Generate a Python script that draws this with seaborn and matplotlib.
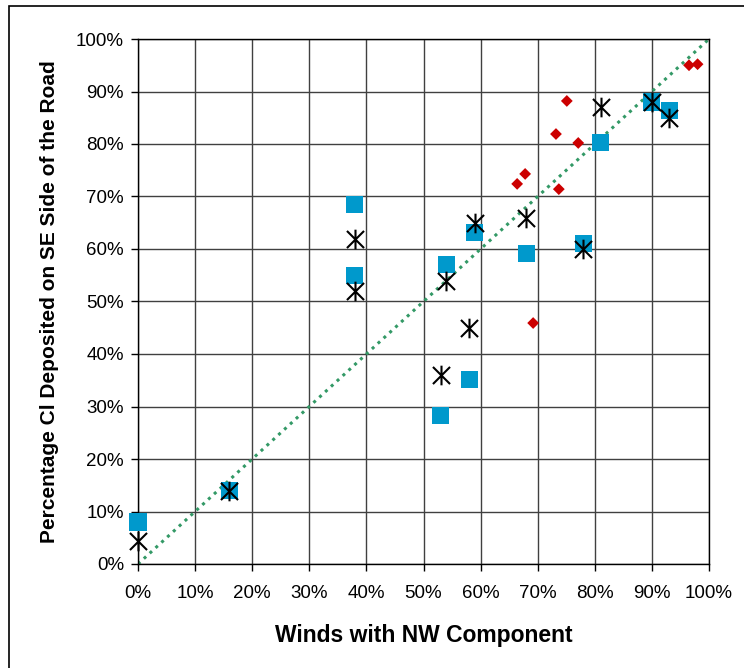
import numpy as np
import pandas as pd
import seaborn as sns
import matplotlib
matplotlib.use("Agg")
import matplotlib.pyplot as plt
from matplotlib.path import Path
from matplotlib.patches import Rectangle
from matplotlib.ticker import PercentFormatter, MultipleLocator

sns.set_style("white")
plt.rcParams['font.family'] = ['Liberation Sans', 'DejaVu Sans']
plt.rcParams['text.color'] = 'black'
plt.rcParams['axes.labelcolor'] = 'black'
plt.rcParams['xtick.color'] = 'black'
plt.rcParams['ytick.color'] = 'black'

# blue squares
sq_x = [0.00, 0.16, 0.38, 0.38, 0.54, 0.59, 0.53, 0.58, 0.68, 0.78, 0.81, 0.90, 0.93]
sq_y = [0.080, 0.140, 0.684, 0.550, 0.570, 0.632, 0.282, 0.352, 0.592, 0.611, 0.802, 0.880, 0.863]

# black asterisks
st_x = [0.00, 0.16, 0.38, 0.38, 0.54, 0.59, 0.53, 0.58, 0.68, 0.78, 0.81, 0.90, 0.93]
st_y = [0.044, 0.140, 0.620, 0.520, 0.540, 0.650, 0.360, 0.450, 0.660, 0.600, 0.870, 0.880, 0.850]

# red diamonds
dm_x = [0.664, 0.678, 0.692, 0.732, 0.737, 0.751, 0.771, 0.965, 0.980]
dm_y = [0.724, 0.743, 0.459, 0.819, 0.714, 0.882, 0.802, 0.950, 0.952]

# 1:1 reference line
ref_x = [0.0, 1.0]
ref_y = [0.0, 1.0]

fig = plt.figure(figsize=(7.44, 6.68), dpi=100)
ax = fig.add_axes([138 / 744, 1 - 564 / 668, 571 / 744, 525 / 668])

sns.lineplot(x=ref_x, y=ref_y, ax=ax, color='#339966', lw=2.2,
             linestyle=(0, (1, 1.6)), zorder=2)

sns.scatterplot(x=sq_x, y=sq_y, ax=ax, marker='s', s=150, color='#0099cc',
                edgecolor='none', linewidth=0, zorder=3, clip_on=False)

star = Path([(-1, -1), (1, 1), (-1, 1), (1, -1), (0, -1.15), (0, 1.15)],
            [Path.MOVETO, Path.LINETO, Path.MOVETO, Path.LINETO, Path.MOVETO, Path.LINETO])
ax.scatter(st_x, st_y, marker=star, s=200, color='black', linewidths=1.5,
           zorder=4, clip_on=False)

sns.scatterplot(x=dm_x, y=dm_y, ax=ax, marker='D', s=36, color='#cc0000',
                edgecolor='none', linewidth=0, zorder=5, clip_on=False)

ax.set_xlim(0, 1)
ax.set_ylim(0, 1)
ax.xaxis.set_major_locator(MultipleLocator(0.1))
ax.yaxis.set_major_locator(MultipleLocator(0.1))
ax.xaxis.set_major_formatter(PercentFormatter(xmax=1, decimals=0))
ax.yaxis.set_major_formatter(PercentFormatter(xmax=1, decimals=0))
ax.grid(True, color='#404040', lw=1)
ax.set_axisbelow(True)
for sp in ax.spines.values():
    sp.set_color('black')
    sp.set_linewidth(1)
ax.tick_params(axis='both', direction='out', length=5, width=1, color='black',
               labelsize=13.5, labelcolor='black', bottom=True, left=True)
ax.tick_params(axis='x', pad=10)
ax.tick_params(axis='y', pad=5)
ax.set_xlabel('Winds with NW Component', fontsize=16.5, fontweight='bold', labelpad=16)
ax.set_ylabel('Percentage Cl Deposited on SE Side of the Road', fontsize=15,
              fontweight='bold', labelpad=12)

fig.patches.append(Rectangle((9 / 744, -0.1), 1.2, 1.1 - 6 / 668, transform=fig.transFigure,
                             fill=False, edgecolor='black', lw=1.2))

fig.savefig('out.png', dpi=100)
